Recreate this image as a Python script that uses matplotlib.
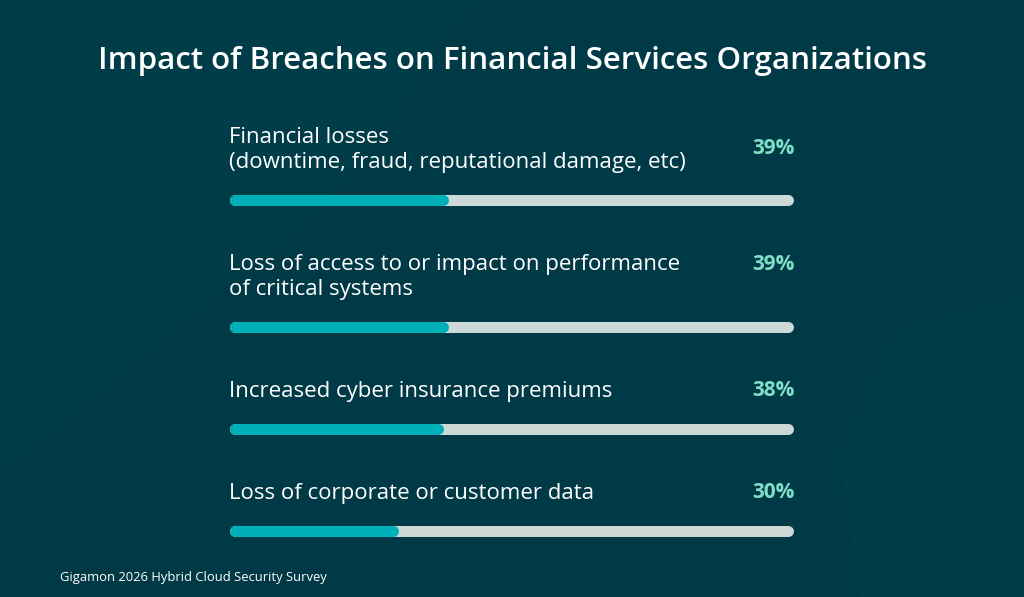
import matplotlib.pyplot as plt
from matplotlib.patches import Polygon

categories = [
    "Financial losses\n(downtime, fraud, reputational damage, etc)",
    "Loss of access to or impact on performance\nof critical systems",
    "Increased cyber insurance premiums",
    "Loss of corporate or customer data",
]
values = [39, 39, 38, 30]

title = "Impact of Breaches on Financial Services Organizations"
source = "Gigamon 2026 Hybrid Cloud Security Survey"

# layout (pixel rows, top-down)
label_y = [150, 277, 392, 494]
pct_y = [149, 265, 390, 493]
bar_y = [200, 327, 429, 531]

BG = '#003a46'
FILL = '#00b0b9'
TRACK = '#cdd9d7'
PCT = '#7fdfc6'

plt.rcParams['font.family'] = ['Open Sans', 'DejaVu Sans']

fig = plt.figure(figsize=(10.24, 5.97), dpi=100)
fig.patch.set_facecolor(BG)

ax = fig.add_axes([0, 0, 1, 1])
ax.set_xlim(0, 1024)
ax.set_ylim(597, 0)
ax.axis('off')

# faint background shapes
ax.add_patch(Polygon([(0, 0), (470, 0), (330, 200), (0, 470)], closed=True,
                     facecolor='#024350', alpha=0.35, edgecolor='none'))
ax.add_patch(Polygon([(860, 597), (1024, 597), (1024, 300), (900, 330), (840, 460)],
                     closed=True, facecolor='#024350', alpha=0.35, edgecolor='none'))

ax.text(512, 61, title, ha='center', va='center', color='white',
        fontsize=22.5, fontweight='semibold')

for lab, ly, py, v in zip(categories, label_y, pct_y, values):
    ax.text(229, ly, lab, ha='left', va='center', color='white',
            fontsize=16, linespacing=1.28)
    ax.text(795, py, f"{v}%", ha='right', va='center', color=PCT,
            fontsize=15, fontweight='bold')

ax.text(60, 578, source, ha='left', va='center', color='white', fontsize=9.4)

# bars: axes x 0..100 spans the track; round caps add half line width at each end
x0, x1 = 229, 793
bx = fig.add_axes([x0 / 1024, 0, (x1 - x0) / 1024, 1])
bx.set_xlim(0, 100)
bx.set_ylim(597, 0)
bx.axis('off')
h = 11
lw = h * 72 / 100
cap = (h / 2) / (x1 - x0) * 100
for y, v in zip(bar_y, values):
    bx.plot([cap, 100 - cap], [y, y], color=TRACK, lw=lw,
            solid_capstyle='round', clip_on=False)
    bx.plot([cap, v - cap], [y, y], color=FILL, lw=lw,
            solid_capstyle='round', clip_on=False)

fig.savefig('out.png', dpi=100, facecolor=BG)
